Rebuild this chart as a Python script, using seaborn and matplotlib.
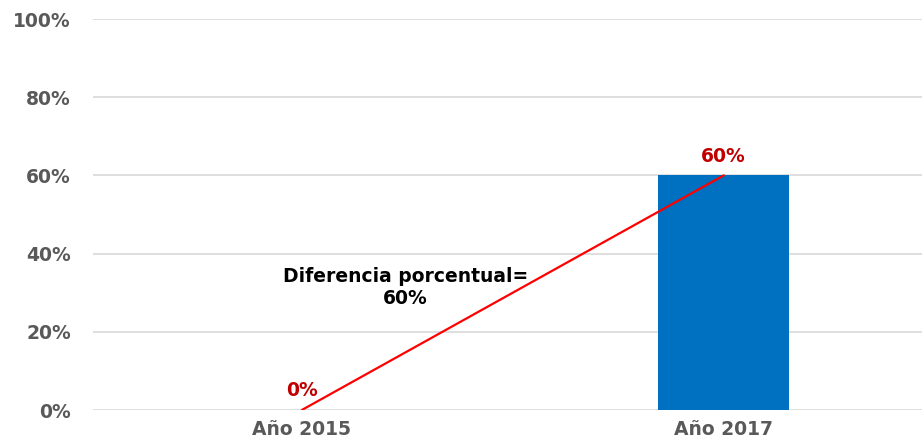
import matplotlib
matplotlib.use("Agg")
import matplotlib.pyplot as plt
import seaborn as sns
import pandas as pd

categories = ["Año 2015", "Año 2017"]
values = [0, 60]
value_labels = ["0%", "60%"]
yticks = [0, 20, 40, 60, 80, 100]
ytick_labels = ["0%", "20%", "40%", "60%", "80%", "100%"]
annotation = "Diferencia porcentual=\n60%"

sns.set_style("white")
plt.rcParams['font.family'] = ['DejaVu Sans']

df = pd.DataFrame({"cat": categories, "val": values})

fig = plt.figure(figsize=(9.22, 4.42), dpi=100)
ax = fig.add_axes([93/922, 32/442, 1 - 93/922, (410-19)/442])

sns.barplot(data=df, x="cat", y="val", color="#0070C0", width=0.31,
            saturation=1, ax=ax, zorder=2, edgecolor="none")

ax.set_xlim(-0.495, 1.47)
ax.set_ylim(0, 100)
ax.set_yticks(yticks)
ax.set_yticklabels(ytick_labels)
ax.yaxis.grid(True, color="#D9D9D9", linewidth=1.2, zorder=0)
ax.set_axisbelow(True)
for s in ax.spines.values():
    s.set_visible(False)
ax.tick_params(axis="both", length=0, labelsize=13.5, labelcolor="#595959")
ax.tick_params(axis="y", pad=16)
ax.tick_params(axis="x", pad=7)
for lab in ax.get_xticklabels() + ax.get_yticklabels():
    lab.set_fontweight("bold")
ax.set_xlabel("")
ax.set_ylabel("")

# red connecting line
ax.plot([0, 1], values, color="#FF0000", linewidth=1.6, zorder=3)

# value labels
ax.text(0, values[0] + 2.5, value_labels[0], color="#C00000", fontsize=13.5,
        fontweight="bold", ha="center", va="bottom")
ax.text(1, values[1] + 2.3, value_labels[1], color="#C00000", fontsize=13.5,
        fontweight="bold", ha="center", va="bottom")

ax.text(0.245, 31.3, annotation, color="black", fontsize=13.5, fontweight="bold",
        ha="center", va="center", linespacing=1.25)

fig.savefig("out.png", dpi=100)
